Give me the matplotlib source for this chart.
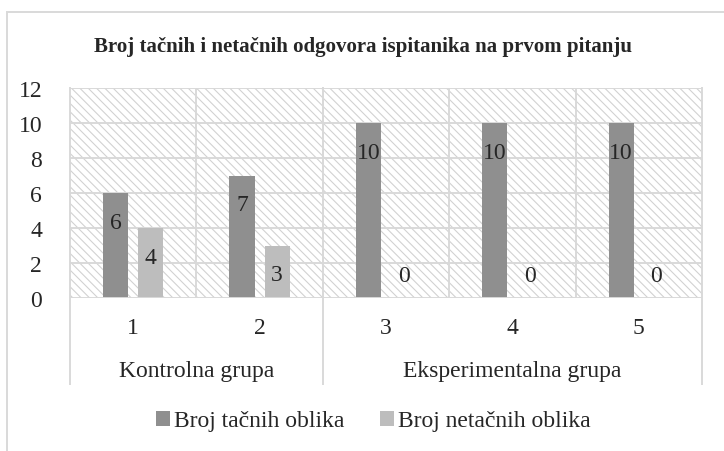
import matplotlib
matplotlib.use("Agg")
import matplotlib.pyplot as plt
from matplotlib.patches import Rectangle
from matplotlib.lines import Line2D

# data
categories = ["1", "2", "3", "4", "5"]
groups = ["Kontrolna grupa", "Eksperimentalna grupa"]
group_sizes = [2, 3]
tacni = [6, 7, 10, 10, 10]
netacni = [4, 3, 0, 0, 0]
series_names = ["Broj tačnih oblika", "Broj netačnih oblika"]
title = "Broj tačnih i netačnih odgovora ispitanika na prvom pitanju"

plt.rcParams['font.family'] = ['Liberation Serif', 'DejaVu Serif']
plt.rcParams['hatch.color'] = '#d2d2d2'
plt.rcParams['hatch.linewidth'] = 0.8

dark = '#8f8f8f'
light = '#bdbdbd'
grid_c = '#d9d9d9'
text_c = '#262626'
fs = 17

fig = plt.figure(figsize=(7.24, 4.52), dpi=100)
# outer chart frame (cropped on right/bottom)
fig.patches.append(Rectangle((7 / 724, -0.1), 1.2, 1 - 13 / 452 + 0.1, transform=fig.transFigure,
                             fill=False, edgecolor=grid_c, lw=1.4))

ax = fig.add_axes([70 / 724, 1 - 299 / 452, (702 - 70) / 724, (299 - 89) / 452])
ax.set_facecolor('white')
ax.add_patch(Rectangle((0, 0), 1, 1, transform=ax.transAxes, facecolor='white',
                       hatch='\\\\\\\\', edgecolor='#d2d2d2', lw=0, zorder=0))

x = list(range(len(categories)))
w = 0.2
off = 0.139
b1 = ax.bar([i - off for i in x], tacni, w, color=dark, zorder=3, label=series_names[0])
b2 = ax.bar([i + off for i in x], netacni, w, color=light, zorder=3, label=series_names[1])

for bars in (b1, b2):
    for r in bars:
        v = r.get_height()
        dy = -21 if v > 0 else 16
        ax.annotate(f"{v:g}", (r.get_x() + r.get_width() / 2, v), xytext=(0, dy),
                    textcoords='offset points', ha='center', va='center',
                    fontsize=fs, color=text_c, zorder=4)

ax.set_xlim(-0.5, len(categories) - 0.5)
ax.set_ylim(0, 12)
ax.set_yticks(range(0, 13, 2))
ax.set_xticks(x)
ax.set_xticklabels(categories)
ax.tick_params(axis='both', length=0, labelsize=fs, colors=text_c)
ax.tick_params(axis='y', pad=20)
ax.tick_params(axis='x', pad=14)

# gridlines
for yv in range(2, 13, 2):
    ax.axhline(yv, color=grid_c, lw=1.4, zorder=1)
for xv in [i + 0.5 for i in x[:-1]]:
    ax.axvline(xv, color=grid_c, lw=1.4, zorder=1)
for s in ax.spines.values():
    s.set_visible(False)
ax.axhline(0, color=grid_c, lw=1.4, zorder=3.5)

# multi-level category axis
bounds = [-0.5]
for g in group_sizes:
    bounds.append(bounds[-1] + g)
trans = ax.get_xaxis_transform()
axh = (299 - 89)
low = -(385 - 299) / axh
for b in bounds:
    ax.add_line(Line2D([b, b], [1, low], transform=trans, color=grid_c, lw=1.4, clip_on=False, zorder=1))
for i, g in enumerate(groups):
    ax.text((bounds[i] + bounds[i + 1]) / 2, -(372 - 299) / axh, g, transform=trans,
            ha='center', va='center', fontsize=fs, color=text_c)

fig.text(363 / 724, 1 - 47 / 452, title, ha='center', va='center', fontsize=15,
         fontweight='bold', color=text_c)

fig.legend(handles=[b1, b2], labels=series_names, loc='center', bbox_to_anchor=(373 / 724, 1 - 422 / 452),
           ncol=2, frameon=False, fontsize=fs, handlelength=0.6, handleheight=0.6,
           handletextpad=0.17, columnspacing=1.5, labelcolor=text_c, borderpad=0, borderaxespad=0)

fig.savefig("out.png", dpi=100)
